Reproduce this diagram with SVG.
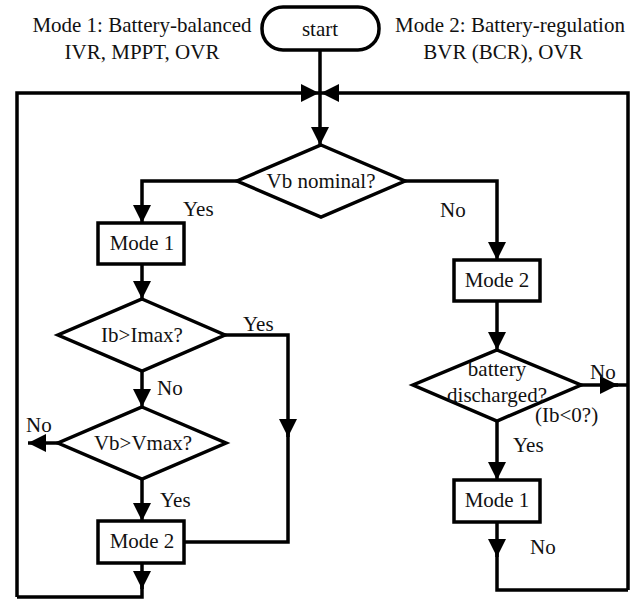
<svg xmlns="http://www.w3.org/2000/svg" width="634" height="599" viewBox="0 0 634 599">
<defs>
<style>
text{font-family:'Liberation Serif','Times New Roman','DejaVu Serif',serif;font-size:21px;fill:#111;}
.c{text-anchor:middle;}
.shape{fill:#fff;stroke:#000;stroke-width:3.5;}
.ln{fill:none;stroke:#000;stroke-width:3.5;}
</style>
<marker id="ah" viewBox="0 0 10 10" refX="10" refY="5" markerWidth="18" markerHeight="18" markerUnits="userSpaceOnUse" orient="auto">
<path d="M0,0 L10,5 L0,10 z" fill="#000"/>
</marker>
</defs>
<rect width="634" height="599" fill="#fff"/>
<g id="labels" font-family="Liberation Serif, serif">
<text class="c" x="142" y="32">Mode 1: Battery-balanced</text>
<text class="c" x="142" y="59">IVR, MPPT, OVR</text>
<text class="c" x="510" y="32">Mode 2: Battery-regulation</text>
<text class="c" x="503" y="59">BVR (BCR), OVR</text>
</g>
<g id="connectors">
<path class="ln" d="M320,50 V145" marker-end="url(#ah)"/>
<path class="ln" d="M17,597 V93 H319" marker-end="url(#ah)"/>
<path class="ln" d="M628,590 V93 H321" marker-end="url(#ah)"/>
<path class="ln" d="M237,181 H142 V223" marker-end="url(#ah)"/>
<path class="ln" d="M405,181 H497 V260" marker-end="url(#ah)"/>
<path class="ln" d="M142,264 V299" marker-end="url(#ah)"/>
<path class="ln" d="M142,371 V407" marker-end="url(#ah)"/>
<path class="ln" d="M225,335 H288 V437" marker-end="url(#ah)"/>
<path class="ln" d="M288,430 V542 H184"/>
<path class="ln" d="M58,443 H28" marker-end="url(#ah)"/>
<path class="ln" d="M142,479 V521" marker-end="url(#ah)"/>
<path class="ln" d="M142,563 V589" marker-end="url(#ah)"/>
<path class="ln" d="M142,585 V597 H17"/>
<path class="ln" d="M497,301 V350" marker-end="url(#ah)"/>
<path class="ln" d="M581,385 H618" marker-end="url(#ah)"/>
<path class="ln" d="M610,385 H628"/>
<path class="ln" d="M497,421 V480" marker-end="url(#ah)"/>
<path class="ln" d="M497,522 V557" marker-end="url(#ah)"/>
<path class="ln" d="M497,550 V590 H628"/>
<text x="183" y="216">Yes</text>
<text x="440" y="217">No</text>
<text x="243" y="331">Yes</text>
<text x="157" y="395">No</text>
<text x="26" y="432">No</text>
<text x="160" y="507">Yes</text>
<text x="590" y="379">No</text>
<text x="535" y="422">(Ib&lt;0?)</text>
<text x="513" y="452">Yes</text>
<text x="530" y="554">No</text>
</g>
<g id="start">
<rect class="shape" x="262" y="7" width="117" height="43" rx="21"/>
<text class="c" x="320" y="36">start</text>
</g>
<g id="vb-nominal">
<path class="shape" d="M321,145 L405,181 L321,217 L237,181 Z"/>
<text class="c" x="321" y="188">Vb nominal?</text>
</g>
<g id="mode1-left">
<rect class="shape" x="98" y="223" width="86" height="41"/>
<text class="c" x="142" y="250">Mode 1</text>
</g>
<g id="ib-imax">
<path class="shape" d="M142,299 L225,335 L142,371 L58,335 Z"/>
<text class="c" x="142" y="342">Ib&gt;Imax?</text>
</g>
<g id="vb-vmax">
<path class="shape" d="M142,407 L226,443 L142,479 L58,443 Z"/>
<text class="c" x="143" y="450">Vb&gt;Vmax?</text>
</g>
<g id="mode2-left">
<rect class="shape" x="98" y="521" width="86" height="42"/>
<text class="c" x="142" y="548">Mode 2</text>
</g>
<g id="mode2-right">
<rect class="shape" x="454" y="260" width="86" height="41"/>
<text class="c" x="497" y="287">Mode 2</text>
</g>
<g id="battery">
<path class="shape" d="M497,350 L581,385 L497,421 L413,385 Z"/>
<text class="c" x="497" y="376">battery</text>
<text class="c" x="497" y="402">discharged?</text>
</g>
<g id="mode1-right">
<rect class="shape" x="454" y="480" width="86" height="42"/>
<text class="c" x="497" y="507">Mode 1</text>
</g>
</svg>
